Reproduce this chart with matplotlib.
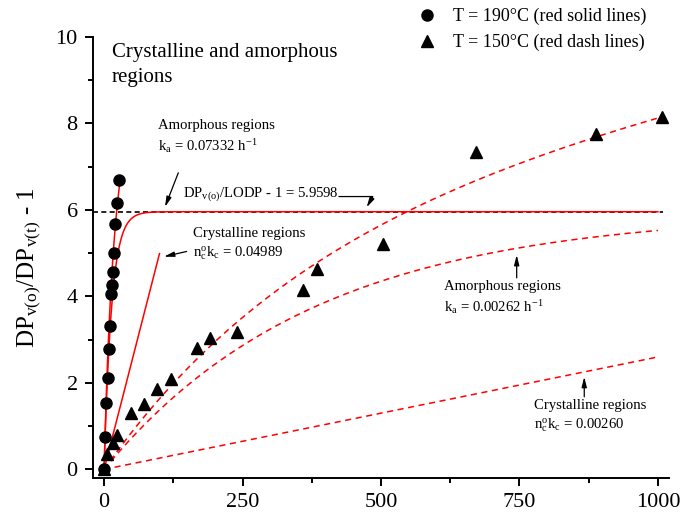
import numpy as np
import matplotlib
matplotlib.use('Agg')
import matplotlib.pyplot as plt
from matplotlib.lines import Line2D
from matplotlib.ticker import MultipleLocator

plt.rcParams['font.family'] = ['Liberation Serif', 'DejaVu Serif']
plt.rcParams['mathtext.fontset'] = 'custom'
plt.rcParams['mathtext.rm'] = 'Liberation Serif'
plt.rcParams['mathtext.it'] = 'Liberation Serif:italic'

# measured points, T = 190 C (circles)
t190 = [0, 1.5, 4, 6.5, 8.5, 10.5, 12, 13.5, 15.5, 18, 20.5, 24, 27.5]
y190 = [0, 0.74, 1.53, 2.12, 2.78, 3.32, 4.05, 4.27, 4.57, 5.01, 5.67, 6.17, 6.70]

# measured points, T = 150 C (triangles)
t150 = [0, 6, 16, 24, 48, 72, 96, 120, 168, 192, 240, 360, 384, 504, 672, 888, 1008]
y150 = [0, 0.35, 0.60, 0.79, 1.30, 1.52, 1.87, 2.08, 2.81, 3.03, 3.18, 4.15, 4.64,
        5.22, 7.33, 7.75, 8.14]

# fitted parameters
lodp = 5.9598
ka190 = 0.07332
kc190 = 0.04989
ka150 = 0.00262
kc150 = 0.00260

fig = plt.figure(figsize=(6.86, 5.17), dpi=100)
ax = fig.add_axes([0.1356, 0.0754, 0.8396, 0.853])

# asymptote
ax.plot([-20, 1010], [lodp, lodp], color='black', lw=1.2, ls=(0, (3, 2)))

# 190 C fits (solid)
t = np.linspace(0, 1000, 2000)
ax.plot(t, lodp * (1 - np.exp(-ka190 * t)), color='red', lw=1.1)
tc = np.linspace(0, 100, 50)
ax.plot(tc, kc190 * tc, color='red', lw=1.1)
tt = np.linspace(0, 28, 100)
ax.plot(tt, lodp * (1 - np.exp(-ka190 * tt)) + kc190 * tt, color='red', lw=1.1)

# 150 C fits (dashed)
dash = (0, (4, 3))
ax.plot(t, lodp * (1 - np.exp(-ka150 * t)) + kc150 * t, color='red', lw=1.1, ls=dash)
ax.plot(t, lodp * (1 - np.exp(-ka150 * t)), color='red', lw=1.1, ls=dash)
ax.plot(t, kc150 * t, color='red', lw=1.1, ls=dash)

ax.plot(t190, y190, 'o', color='black', ms=8, zorder=5)
ax.plot(t150, y150, '^', color='black', ms=9, zorder=5)

ax.set_xlim(-20, 1020)
ax.set_ylim(-0.2, 10)
ax.xaxis.set_major_locator(MultipleLocator(250))
ax.xaxis.set_minor_locator(MultipleLocator(125))
ax.yaxis.set_major_locator(MultipleLocator(2))
ax.yaxis.set_minor_locator(MultipleLocator(1))
ax.spines['top'].set_visible(False)
ax.spines['right'].set_visible(False)
for s in ['left', 'bottom']:
    ax.spines[s].set_linewidth(1.4)
ax.tick_params(which='major', direction='out', length=6, width=1.4, labelsize=16, pad=5)
ax.tick_params(which='minor', direction='out', length=3.5, width=1.4)
ax.set_ylabel(r'DP$_{\mathrm{v(o)}}$/DP$_{\mathrm{v(t)}}$ - 1', fontsize=18)
ax.yaxis.set_label_coords(-0.087, 0.478)

ax.text(14, 9.87, 'Crystalline and amorphous\nregions', fontsize=15, va='top', ha='left',
        linespacing=1.45)

fs = 10.6
arr = dict(arrowstyle='-|>,head_length=0.6,head_width=0.15', color='black', lw=0.9,
           shrinkA=0, shrinkB=0)

ax.text(97, 8.1, 'Amorphous regions\nk$_\\mathrm{a}$ = 0.07332 h$^{\\mathrm{-1}}$',
        fontsize=fs, va='top', ha='left', linespacing=1.35)
ax.annotate('', xy=(110, 6.07), xytext=(134, 6.86), arrowprops=arr)

ax.text(143, 6.30, 'DP$_{\\mathrm{v(o)}}$/LODP - 1 = 5.9598', fontsize=fs,
        va='baseline', ha='left')
ax.annotate('', xy=(474, 6.06), xytext=(424, 6.31),
            arrowprops=dict(arr, connectionstyle='angle,angleA=0,angleB=60,rad=0'))

ax.text(160, 5.6, 'Crystalline regions\nn$_\\mathrm{c}^\\mathrm{o}$k$_\\mathrm{c}$ = 0.04989',
        fontsize=fs, va='top', ha='left', linespacing=1.35)
ax.annotate('', xy=(108, 4.92), xytext=(149, 5.04), arrowprops=arr)

ax.text(613, 4.37, 'Amorphous regions\nk$_\\mathrm{a}$ = 0.00262 h$^{\\mathrm{-1}}$',
        fontsize=fs, va='top', ha='left', linespacing=1.35)
ax.annotate('', xy=(745, 4.96), xytext=(745, 4.43), arrowprops=arr)

ax.text(777, 1.62, 'Crystalline regions\nn$_\\mathrm{c}^\\mathrm{o}$k$_\\mathrm{c}$ = 0.00260',
        fontsize=fs, va='top', ha='left', linespacing=1.35)
ax.annotate('', xy=(867, 2.14), xytext=(867, 1.68), arrowprops=arr)

handles = [Line2D([], [], marker='o', ls='none', color='black', ms=8),
           Line2D([], [], marker='^', ls='none', color='black', ms=9)]
fig.legend(handles, ['T = 190°C (red solid lines)', 'T = 150°C (red dash lines)'],
           loc='upper left', bbox_to_anchor=(0.61, 0.985), frameon=False, fontsize=13,
           handlelength=1.0, handletextpad=0.9, labelspacing=0.5, borderpad=0,
           borderaxespad=0)

fig.savefig('out.png', dpi=100)
